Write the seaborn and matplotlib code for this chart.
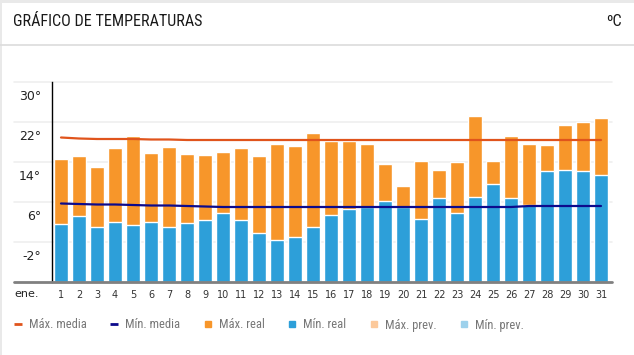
import numpy as np
import pandas as pd
import matplotlib
matplotlib.use("Agg")
import matplotlib.pyplot as plt
import matplotlib.transforms as mtransforms
from matplotlib.lines import Line2D
import seaborn as sns

# ---- data ----
days = [str(d) for d in range(1, 32)]
max_real = [14.6, 15.2, 13.0, 16.8, 19.2, 15.8, 17.0, 15.6, 15.4, 16.0,
            16.8, 15.2, 17.6, 17.2, 19.8, 18.2, 18.2, 17.6, 13.6, 9.2,
            14.2, 12.4, 14.0, 23.3, 14.2, 19.2, 17.6, 17.4, 21.4, 22.0, 22.8]
min_real = [1.6, 3.2, 1.0, 2.0, 1.4, 2.0, 1.0, 1.8, 2.4, 3.8,
            2.4, -0.2, -1.6, -1.0, 1.0, 3.4, 4.6, 5.0, 6.2, 5.0,
            2.6, 6.8, 3.8, 7.0, 9.6, 6.8, 5.4, 12.2, 12.4, 12.2, 11.4]
max_media = [18.9, 18.7, 18.6, 18.6, 18.6, 18.5, 18.5, 18.4, 18.4, 18.4,
             18.4, 18.4, 18.4, 18.4, 18.4, 18.4, 18.4, 18.4, 18.4, 18.4,
             18.4, 18.4, 18.4, 18.4, 18.4, 18.4, 18.4, 18.4, 18.4, 18.4, 18.4]
min_media = [5.7, 5.6, 5.5, 5.5, 5.4, 5.3, 5.3, 5.2, 5.1, 5.0,
             5.0, 5.0, 5.0, 5.0, 5.0, 5.0, 5.0, 5.0, 5.0, 5.0,
             5.0, 5.0, 5.0, 5.0, 5.0, 5.0, 5.2, 5.2, 5.2, 5.2, 5.2]
y_ticks = [30, 22, 14, 6, -2]
y_tick_labels = ["30°", "22°", "14°", "6°", "-2°"]
month_label = "ene."
legend_labels = ["Máx. media", "Mín. media", "Máx. real", "Mín. real", "Máx. prev.", "Mín. prev."]

BASE = -10
TOP = 30

C_MAX = "#f7962a"
C_MIN = "#2d9fd9"
C_MAXM = "#e0541c"
C_MINM = "#0c0a8c"
C_MAXP = "#fcc99b"
C_MINP = "#9dd1ec"

df = pd.DataFrame({"day": days, "max": max_real, "min": min_real,
                   "maxm": max_media, "minm": min_media})
df["pos"] = np.arange(len(df))
df["max_h"] = df["max"] - BASE
df["min_h"] = df["min"] - BASE

sns.set_theme(style="white")
plt.rcParams["font.family"] = ["DejaVu Sans"]
COND = ["Roboto Condensed", "DejaVu Sans"]

W, H = 634, 355
fig = plt.figure(figsize=(W / 100, H / 100), dpi=100)
fig.patch.set_facecolor("white")

def fx(px):
    return px / W

def fy(py):
    return 1 - py / H

# frame decorations
fig.add_artist(plt.Rectangle((0, fy(3)), 1, 3 / H, transform=fig.transFigure,
                             color="#e9e9e9", lw=0))
fig.add_artist(plt.Rectangle((0, 0), 2 / W, 1, transform=fig.transFigure,
                             color="#e9e9e9", lw=0))
fig.add_artist(Line2D([0, 1], [fy(45), fy(45)], transform=fig.transFigure,
                      color="#dcdcdc", lw=1.2))

fig.text(fx(13), fy(22), "GRÁFICO DE TEMPERATURAS", family=COND,
         fontsize=11.6, color="#1a1a1a", va="center", ha="left")
fig.text(fx(622), fy(22), "ºC", family=COND,
         fontsize=11.6, color="#1a1a1a", va="center", ha="right")

left, right, top, bottom = 52, 610, 82, 282
ax = fig.add_axes([fx(left), fy(bottom), (right - left) / W, (bottom - top) / H])
ax.set_facecolor("none")

sns.barplot(data=df, x="day", y="max_h", color=C_MAX, saturation=1,
            width=0.74, bottom=BASE, ax=ax, zorder=2)
sns.barplot(data=df, x="day", y="min_h", color=C_MIN, saturation=1,
            width=0.74, bottom=BASE, ax=ax, zorder=3)
sns.lineplot(data=df, x="pos", y="maxm", color=C_MAXM, lw=1.6, ax=ax, zorder=4)
sns.lineplot(data=df, x="pos", y="minm", color=C_MINM, lw=1.6, ax=ax, zorder=4)

ax.set_xlim(-0.5, len(days) - 0.5)
ax.set_ylim(BASE, TOP)
ax.set_xlabel("")
ax.set_ylabel("")
ax.set_yticks([])
ax.tick_params(axis="x", length=0, pad=6, labelsize=7, labelcolor="#333333")
for s in ["top", "right", "bottom"]:
    ax.spines[s].set_visible(False)
ax.spines["left"].set_color("black")
ax.spines["left"].set_linewidth(1)
ax.spines["left"].set_zorder(5)

# gridlines spanning from left margin
blend = mtransforms.blended_transform_factory(fig.transFigure, ax.transData)
for v in y_ticks:
    fig.add_artist(Line2D([fx(14), fx(612)], [v, v], transform=blend,
                          color="#efefef", lw=1.2, zorder=0))
fig.add_artist(Line2D([fx(14), fx(612)], [BASE, BASE], transform=blend,
                      color="#808080", lw=2, zorder=6))

off = mtransforms.ScaledTranslation(0, -15 / 100, fig.dpi_scale_trans)
for v, lab in zip(y_ticks, y_tick_labels):
    fig.text(fx(41), v, lab, transform=blend + off, ha="right", va="center",
             fontsize=9, color="#222222")

fig.text(fx(27), fy(294), month_label, ha="center", va="center",
         fontsize=8, color="#222222")

# legend
handles = [
    Line2D([], [], marker="_", color=C_MAXM, markersize=6, markeredgewidth=2, ls="none"),
    Line2D([], [], marker="_", color=C_MINM, markersize=6, markeredgewidth=2, ls="none"),
    Line2D([], [], marker="s", color=C_MAX, markersize=5, ls="none"),
    Line2D([], [], marker="s", color=C_MIN, markersize=5, ls="none"),
    Line2D([], [], marker="s", color=C_MAXP, markersize=5, ls="none"),
    Line2D([], [], marker="s", color=C_MINP, markersize=5, ls="none"),
]
leg = fig.legend(handles, legend_labels, loc="center left",
                 bbox_to_anchor=(fx(14), fy(325)), ncol=6, frameon=False,
                 borderaxespad=0, borderpad=0,
                 handlelength=0.56, handletextpad=0.62, columnspacing=1.9,
                 prop={"family": COND, "size": 9})
for t in leg.get_texts():
    t.set_color("#777777")

fig.savefig("out.png", dpi=100)
